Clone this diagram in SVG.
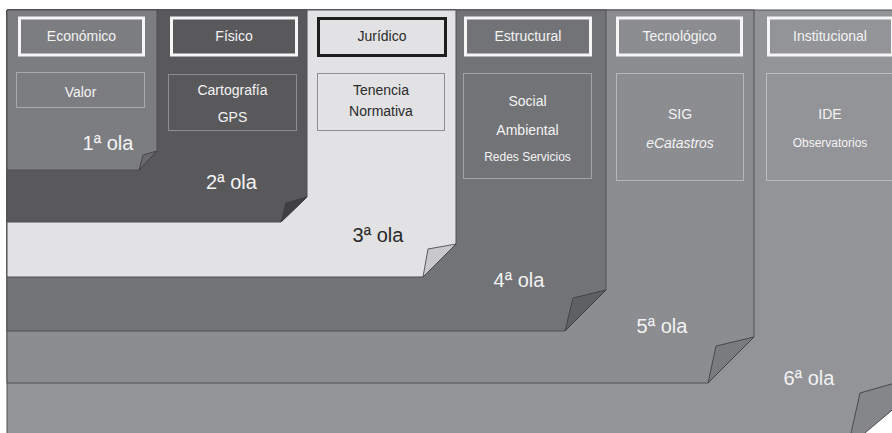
<svg xmlns="http://www.w3.org/2000/svg" width="892" height="433" viewBox="0 0 892 433">
<style>
text{font-family:"Liberation Sans",Arial,sans-serif;text-anchor:middle}
.lay{stroke:#505052;stroke-width:1}
.flap{stroke:#3a3a3c;stroke-width:0.8;stroke-linejoin:round}
.hd{stroke:#f6f6f6;stroke-width:3}
.hdk{stroke:#1e1e1e;stroke-width:3}
.sub{fill:none;stroke-width:1}
.w{fill:#f3f3f3}
.k{fill:#2a2a2a}
.t14{font-size:14px}
.t12{font-size:12px}
.ola{font-size:20px}
</style>
<rect width="892" height="433" fill="#ffffff"/>

<g id="ola6">
<path class="lay" fill="#939498" d="M7,10 H895 V407.6 L859.2,436 H7 Z"/>
<polygon class="flap" fill="#85868a" points="849.5,440 860,393 895,383 895,407.6 856.7,440"/>
<rect class="hd" fill="#939498" x="768.5" y="18" width="124" height="37"/>
<text class="t14 w" x="830" y="41">Institucional</text>
<rect class="sub" stroke="#bcbdc0" x="766.5" y="73.5" width="127" height="107"/>
<text class="t14 w" x="830" y="119">IDE</text>
<text class="t12 w" x="830" y="147">Observatorios</text>
<text class="ola w" x="809" y="385">6ª ola</text>
</g>

<g id="ola5">
<path class="lay" fill="#8c8d91" d="M7,10 H754 V337 L708,383 H7 Z"/>
<polygon class="flap" fill="#7a7b7f" points="708,383 716,346 754,337"/>
<rect class="hd" fill="#8c8d91" x="617.5" y="18" width="124" height="37"/>
<text class="t14 w" x="679.5" y="41">Tecnológico</text>
<rect class="sub" stroke="#b6b7ba" x="616.5" y="73.5" width="127" height="107"/>
<text class="t14 w" x="680" y="119">SIG</text>
<text class="t14 w" x="680" y="148" font-style="italic">eCatastros</text>
<text class="ola w" x="662" y="333">5ª ola</text>
</g>

<g id="ola4">
<path class="lay" fill="#727377" d="M7,10 H606 V290 L565,331 H7 Z"/>
<polygon class="flap" fill="#5f6063" points="565,331 573,298 606,290"/>
<rect class="hd" fill="#727377" x="465.5" y="18" width="125" height="37"/>
<text class="t14 w" x="528" y="41">Estructural</text>
<rect class="sub" stroke="#a2a3a6" x="463.5" y="73.5" width="128" height="105"/>
<text class="t14 w" x="527.5" y="106">Social</text>
<text class="t14 w" x="527.5" y="135">Ambiental</text>
<text class="t12 w" x="527.5" y="161">Redes Servicios</text>
<text class="ola w" x="519" y="287">4ª ola</text>
</g>

<g id="ola3">
<path class="lay" fill="#e2e2e4" d="M7,10 H456 V244 L423,277 H7 Z"/>
<polygon class="flap" fill="#c9c9cb" points="423,277 428,249 456,244"/>
<rect class="hdk" fill="#e2e2e4" x="318.5" y="18.5" width="127" height="37"/>
<text class="t14 k" x="382" y="41">Jurídico</text>
<rect class="sub" stroke="#8e8e90" x="317.5" y="73.5" width="127" height="57"/>
<text class="t14 k" x="381" y="95">Tenencia</text>
<text class="t14 k" x="381" y="116">Normativa</text>
<text class="ola k" x="378" y="242">3ª ola</text>
</g>

<g id="ola2">
<path class="lay" fill="#59595c" d="M7,10 H307 V197 L281,222 H7 Z"/>
<polygon class="flap" fill="#404042" points="281,222 286,203 307,197"/>
<rect class="hd" fill="#59595c" x="171.5" y="18" width="125" height="37"/>
<text class="t14 w" x="234" y="41">Físico</text>
<rect class="sub" stroke="#8e8e91" x="168.5" y="74.5" width="128" height="56"/>
<text class="t14 w" x="232.5" y="95">Cartografía</text>
<text class="t14 w" x="232.5" y="122">GPS</text>
<text class="ola w" x="231.5" y="189">2ª ola</text>
</g>

<g id="ola1">
<path class="lay" fill="#7c7d81" d="M7,10 H157 V151 L139,170 H7 Z"/>
<polygon class="flap" fill="#6a6a6d" points="139,170 143,155 157,151"/>
<rect class="hd" fill="#7c7d81" x="19.5" y="18" width="124" height="37"/>
<text class="t14 w" x="81.5" y="41">Económico</text>
<rect class="sub" stroke="#a9aaae" x="16.5" y="72.5" width="128" height="35"/>
<text class="t14 w" x="80.5" y="97">Valor</text>
<text class="ola w" x="108" y="150">1ª ola</text>
</g>

<g id="connectors"/>
</svg>
